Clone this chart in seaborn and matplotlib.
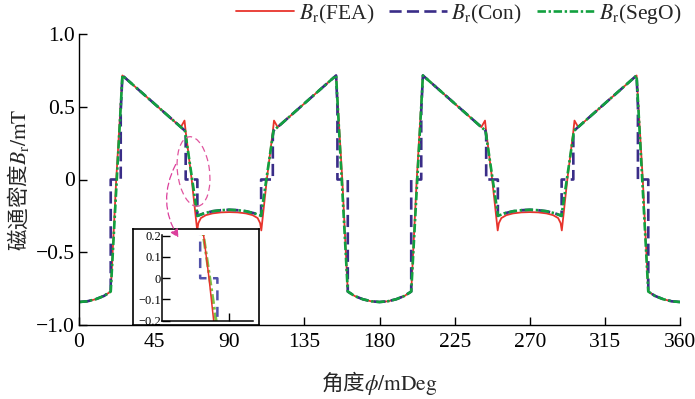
import matplotlib
matplotlib.use("Agg")
import matplotlib.pyplot as plt
from matplotlib.patches import Ellipse, FancyArrowPatch
import pandas as pd
import seaborn as sns

# ---------------- data ----------------
fea_deg = [0, 5, 10, 15, 19, 22.3, 26, 61, 63.2, 63.9, 67.5, 70.8, 71.5, 73, 76, 80, 85, 90,
           95, 100, 104, 107, 108.5, 109.2, 112.5, 116.1, 116.8, 119, 154, 157.7, 161,
           165, 170, 175, 180,
           185, 190, 195, 199, 202.3, 206, 241, 243.2, 243.9, 247.5, 250.8, 251.5, 253, 256, 260, 265, 270,
           275, 280, 284, 287, 288.5, 289.2, 292.5, 296.1, 296.8, 299, 334, 337.7, 341,
           345, 350, 355, 360]
fea_val = [-0.842, -0.837, -0.823, -0.80, -0.77, 0.0, 0.715, 0.36, 0.405, 0.33, 0.0, -0.35, -0.30, -0.265, -0.245, -0.233, -0.226, -0.224,
           -0.226, -0.233, -0.245, -0.265, -0.30, -0.35, 0.0, 0.33, 0.405, 0.36, 0.715, 0.0, -0.77,
           -0.80, -0.823, -0.837, -0.842,
           -0.837, -0.823, -0.80, -0.77, 0.0, 0.715, 0.36, 0.405, 0.33, 0.0, -0.35, -0.30, -0.265, -0.245, -0.233, -0.226, -0.224,
           -0.226, -0.233, -0.245, -0.265, -0.30, -0.35, 0.0, 0.33, 0.405, 0.36, 0.715, 0.0, -0.77,
           -0.80, -0.823, -0.837, -0.842]

con_deg = [0, 5, 10, 15, 19, 19, 25, 25, 26, 63.5, 63.9, 63.9, 70.9, 70.9, 75, 80, 85, 90,
           95, 100, 105, 109.1, 109.1, 116.1, 116.1, 116.5, 154, 154.8, 154.8, 161, 161,
           165, 170, 175, 180,
           185, 190, 195, 199, 199, 205, 205, 206, 243.5, 243.9, 243.9, 250.9, 250.9, 255, 260, 265, 270,
           275, 280, 285, 289.1, 289.1, 296.1, 296.1, 296.5, 334, 334.8, 334.8, 341, 341,
           345, 350, 355, 360]
con_val = [-0.842, -0.837, -0.823, -0.80, -0.77, 0.0, 0.0, 0.47, 0.715, 0.335, 0.30, 0.0, 0.0, -0.25, -0.232, -0.218, -0.211, -0.208,
           -0.211, -0.218, -0.232, -0.25, 0.0, 0.0, 0.30, 0.335, 0.715, 0.5, 0.0, 0.0, -0.77,
           -0.80, -0.823, -0.837, -0.842,
           -0.837, -0.823, -0.80, -0.77, 0.0, 0.0, 0.47, 0.715, 0.335, 0.30, 0.0, 0.0, -0.25, -0.232, -0.218, -0.211, -0.208,
           -0.211, -0.218, -0.232, -0.25, 0.0, 0.0, 0.30, 0.335, 0.715, 0.5, 0.0, 0.0, -0.77,
           -0.80, -0.823, -0.837, -0.842]

sego_deg = [0, 5, 10, 15, 19, 26, 63.5, 71, 75, 80, 85, 90, 95, 100, 105, 109, 116.5, 154, 161,
            165, 170, 175, 180,
            185, 190, 195, 199, 206, 243.5, 251, 255, 260, 265, 270, 275, 280, 285, 289, 296.5, 334, 341,
            345, 350, 355, 360]
sego_val = [-0.842, -0.837, -0.823, -0.80, -0.77, 0.715, 0.335, -0.25, -0.232, -0.218, -0.211, -0.208,
            -0.211, -0.218, -0.232, -0.25, 0.335, 0.715, -0.77,
            -0.80, -0.823, -0.837, -0.842,
            -0.837, -0.823, -0.80, -0.77, 0.715, 0.335, -0.25, -0.232, -0.218, -0.211, -0.208,
            -0.211, -0.218, -0.232, -0.25, 0.335, 0.715, -0.77,
            -0.80, -0.823, -0.837, -0.842]

x_ticks = [0, 45, 90, 135, 180, 225, 270, 315, 360]
y_ticks = [-1.0, -0.5, 0, 0.5, 1.0]
y_tick_labels = ["\u22121.0", "\u22120.5", "0", "0.5", "1.0"]
inset_y_ticks = [-0.2, -0.1, 0, 0.1, 0.2]
inset_y_tick_labels = ["\u22120.2", "\u22120.1", "0", "0.1", "0.2"]
inset_x_ticks = [75.5]

labels = [r"$B_\mathrm{r}$(FEA)", r"$B_\mathrm{r}$(Con)", r"$B_\mathrm{r}$(SegO)"]
xlabel = "角度$\\phi/\\mathrm{mDeg}$"
ylabel = "磁通密度$B_\\mathrm{r}/\\mathrm{mT}$"

# ---------------- style ----------------
sns.set_theme(style="ticks")
plt.rcParams["font.family"] = ["Liberation Serif", "Noto Sans CJK SC"]
plt.rcParams["mathtext.fontset"] = "stix"
plt.rcParams["axes.unicode_minus"] = True

C_FEA = "#e8342c"
C_CON = "#3a2d88"
C_SEG = "#12a03f"

W, H = 695, 399
fig = plt.figure(figsize=(6.95, 3.99), dpi=100)
fig.patch.set_facecolor("white")


def fx(px):
    return px / W


def fy(py):
    return 1 - py / H


df_fea = pd.DataFrame({"deg": fea_deg, "B": fea_val})
df_con = pd.DataFrame({"deg": con_deg, "B": con_val})
df_seg = pd.DataFrame({"deg": sego_deg, "B": sego_val})

ax = fig.add_axes([fx(79), fy(325), fx(680) - fx(79), fy(34) - fy(325)])
sns.lineplot(data=df_fea, x="deg", y="B", ax=ax, estimator=None, sort=False,
             color=C_FEA, lw=1.3, label=labels[0])
sns.lineplot(data=df_con, x="deg", y="B", ax=ax, estimator=None, sort=False,
             color=C_CON, lw=1.9, linestyle=(0, (4.6, 2.0)), label=labels[1])
sns.lineplot(data=df_seg, x="deg", y="B", ax=ax, estimator=None, sort=False,
             color=C_SEG, lw=1.9, linestyle=(0, (3.2, 1.0, 0.9, 1.0)), label=labels[2])

ax.set_xlim(0, 360)
ax.set_ylim(-1.0, 1.0)
ax.set_xticks(x_ticks)
ax.set_xticklabels([str(t) for t in x_ticks])
ax.set_yticks(y_ticks)
ax.set_yticklabels(y_tick_labels)
for s in ["top", "right"]:
    ax.spines[s].set_visible(False)
for s in ["left", "bottom"]:
    ax.spines[s].set_linewidth(1.0)
    ax.spines[s].set_color("black")
ax.tick_params(axis="both", direction="in", length=5.8, width=1.0, colors="black",
               labelsize=15.5)
ax.tick_params(axis="x", pad=6)
ax.tick_params(axis="y", pad=3)
ax.set_xlabel(xlabel, fontsize=15.5, family="Noto Sans CJK SC")
ax.set_ylabel(ylabel, fontsize=15.5, family="Noto Sans CJK SC")
ax.xaxis.set_label_coords(0.5, -(369 - 325) / (325 - 34))
ax.yaxis.set_label_coords(-(79 - 31) / (680 - 79), 0.5)

h, l = ax.get_legend_handles_labels()
ax.legend(h, l, loc="center right", bbox_to_anchor=(fx(682), fy(14)),
          bbox_transform=fig.transFigure, ncol=3, frameon=False, fontsize=15.5,
          handlelength=2.7, handletextpad=0.2, columnspacing=0.7, borderpad=0,
          borderaxespad=0)

# ---------------- inset ----------------
frame = fig.add_axes([fx(132.5), fy(325), fx(259) - fx(132.5), fy(229) - fy(325)])
frame.set_facecolor("white")
frame.set_xticks([])
frame.set_yticks([])
for s in frame.spines.values():
    s.set_linewidth(1.2)
    s.set_color("black")
    s.set_visible(True)

axin = fig.add_axes([fx(162.3), fy(320.7), fx(253.3) - fx(162.3), fy(234.7) - fy(320.7)])
axin.patch.set_alpha(0)
sns.lineplot(data=df_seg, x="deg", y="B", ax=axin, estimator=None, sort=False,
             color="#7cc246", lw=2.2, linestyle=(0, (3.2, 1.0, 0.9, 1.0)))
sns.lineplot(data=df_con, x="deg", y="B", ax=axin, estimator=None, sort=False,
             color="#5252aa", lw=1.8, linestyle=(0, (4.0, 2.6)))
sns.lineplot(data=df_fea, x="deg", y="B", ax=axin, estimator=None, sort=False,
             color=C_FEA, lw=1.1)
axin.set_xlim(48.5, 85.5)
axin.set_ylim(-0.2, 0.205)
axin.set_xticks(inset_x_ticks)
axin.set_xticklabels([])
axin.set_yticks(inset_y_ticks)
axin.set_yticklabels(inset_y_tick_labels)
axin.set_xlabel("")
axin.set_ylabel("")
for s in ["top", "right"]:
    axin.spines[s].set_visible(False)
for s in ["left", "bottom"]:
    axin.spines[s].set_linewidth(1.1)
    axin.spines[s].set_color("black")
axin.tick_params(axis="both", direction="in", length=5.8, width=1.0, colors="black",
                 labelsize=9)
axin.tick_params(axis="y", pad=1)
if axin.get_legend() is not None:
    axin.get_legend().remove()

# ---------------- annotations (ellipse + curved arrow) ----------------
ell = Ellipse((1.935, (H - 171.5) / 100), width=0.32, height=0.70, angle=7,
              transform=fig.dpi_scale_trans, fill=False, edgecolor="#e0559f",
              lw=0.9, linestyle=(0, (5, 3)))
fig.add_artist(ell)
arr = FancyArrowPatch((1.77, (H - 162) / 100), (1.80, (H - 240) / 100),
                      transform=fig.dpi_scale_trans, connectionstyle="arc3,rad=0.3",
                      arrowstyle="-|>", mutation_scale=12, color="#dc3f9c",
                      lw=0.9, linestyle=(0, (5, 3)))
fig.add_artist(arr)

fig.savefig("out.png", dpi=100)
